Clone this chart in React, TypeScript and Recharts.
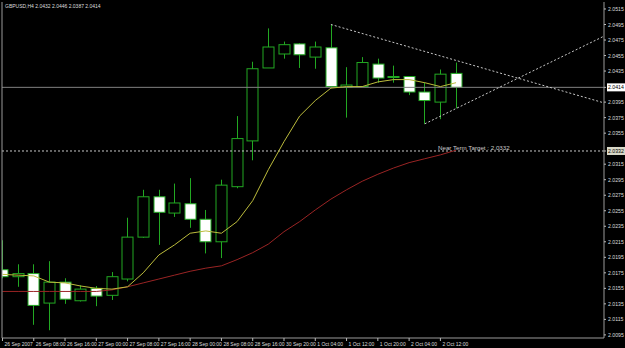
import { ComposedChart, Bar, Line, XAxis, YAxis, ReferenceLine } from 'recharts';

// GBPUSD H4 candles, 26 Sep - 2 Oct 2007
const symbol = 'GBPUSD,H4';
const opens = [2.0179, 2.017, 2.0174, 2.0136, 2.0163, 2.0139, 2.0155, 2.0146, 2.0167, 2.0221, 2.0273, 2.0252, 2.0264, 2.0244, 2.0215, 2.0286, 2.0345, 2.0439, 2.0457, 2.047, 2.0453, 2.0465, 2.0414, 2.0415, 2.0444, 2.0428, 2.0428, 2.0408, 2.0395, 2.0432];
const highs = [2.0217, 2.0186, 2.0186, 2.019, 2.0168, 2.0159, 2.0158, 2.0176, 2.0246, 2.0282, 2.0282, 2.029, 2.0297, 2.0256, 2.0295, 2.0377, 2.0447, 2.049, 2.0473, 2.0471, 2.0473, 2.0495, 2.044, 2.0453, 2.0451, 2.0442, 2.0428, 2.042, 2.0437, 2.0446];
const lows = [2.0168, 2.0157, 2.0108, 2.0101, 2.0135, 2.0138, 2.0132, 2.014, 2.0164, 2.022, 2.0211, 2.0247, 2.0233, 2.02, 2.0194, 2.0284, 2.032, 2.0439, 2.0451, 2.0439, 2.0438, 2.0413, 2.0375, 2.0415, 2.042, 2.042, 2.0404, 2.0367, 2.0373, 2.0387];
const closes = [2.017, 2.0174, 2.0133, 2.0163, 2.0141, 2.0154, 2.0145, 2.017, 2.0221, 2.0273, 2.0253, 2.0265, 2.0244, 2.0215, 2.0288, 2.0348, 2.0438, 2.0466, 2.0469, 2.0456, 2.0466, 2.0415, 2.0417, 2.0446, 2.0426, 2.0427, 2.0408, 2.0397, 2.0431, 2.0414];

// moving averages
const maFast = [2.0173, 2.0172, 2.0171, 2.0163, 2.0162, 2.0158, 2.0155, 2.0154, 2.0157, 2.0175, 2.0198, 2.0211, 2.0226, 2.0229, 2.0226, 2.0241, 2.0268, 2.0308, 2.0344, 2.0377, 2.0397, 2.0413, 2.0415, 2.0415, 2.0421, 2.0424, 2.0424, 2.042, 2.0415, 2.042];
const maSlow = [2.0151, 2.0151, 2.0151, 2.0151, 2.0151, 2.0151, 2.0151, 2.0153, 2.0157, 2.0162, 2.0167, 2.0172, 2.0177, 2.0181, 2.0184, 2.0192, 2.0201, 2.0212, 2.0228, 2.0241, 2.0256, 2.027, 2.0282, 2.0293, 2.0302, 2.031, 2.0317, 2.0322, 2.0327, 2.0333];

const timeTicks = [0, 2, 4, 6, 8, 10, 12, 14, 16, 18, 20, 22, 24, 26, 28];
const timeLabels = ['26 Sep 2007', '26 Sep 08:00', '26 Sep 16:00', '27 Sep 00:00', '27 Sep 08:00', '27 Sep 16:00', '28 Sep 00:00', '28 Sep 08:00', '28 Sep 16:00', '30 Sep 20:00', '1 Oct 04:00', '1 Oct 12:00', '1 Oct 20:00', '2 Oct 04:00', '2 Oct 12:00'];

const priceTicks = [2.0515, 2.0495, 2.0475, 2.0455, 2.0435, 2.0395, 2.0375, 2.0355, 2.0315, 2.0295, 2.0275, 2.0255, 2.0235, 2.0215, 2.0195, 2.0175, 2.0155, 2.0135, 2.0115, 2.0095];
const bidPrice = 2.0414;
const targetPrice = 2.0332;
const targetText = 'Near Term Target : 2.0332';

// triangle trend lines (bar index, price)
const upperTrend = [{ x: 21, y: 2.0495 }, { x: 38.46, y: 2.0394 }];
const lowerTrend = [{ x: 27, y: 2.0367 }, { x: 38.46, y: 2.048 }];

const data = opens.map((open, i) => ({
  i,
  open,
  high: highs[i],
  low: lows[i],
  close: closes[i],
  maFast: maFast[i],
  maSlow: maSlow[i],
}));

const GREEN = '#22a822';
const FONT = 'Liberation Sans, Arial, sans-serif';

const Candle = (props: any) => {
  const { x, y, width, height, payload } = props;
  const top = Math.min(y, y + height);
  const h = Math.abs(height);
  const { open, close, high, low } = payload;
  const k = h / (high - low);
  const yO = top + (high - open) * k;
  const yC = top + (high - close) * k;
  const cx = Math.round(x + width / 2) + 0.5;
  const bodyTop = Math.min(yO, yC);
  const bodyH = Math.max(Math.abs(yO - yC), 1);
  return (
    <g>
      <line x1={cx} x2={cx} y1={top} y2={top + h} stroke={GREEN} />
      <rect
        x={cx - 5.5}
        y={bodyTop}
        width={11}
        height={bodyH}
        fill={close >= open ? '#000' : '#fff'}
        stroke={GREEN}
      />
    </g>
  );
};

const TimeTick = ({ x, y, payload }: any) => (
  <text x={x + 2} y={y + 3} fontSize={5} fill="#ddd" fontFamily={FONT}>
    {timeLabels[timeTicks.indexOf(payload.value)]}
  </text>
);

const PriceTick = ({ x, y, payload }: any) => {
  const v = payload.value;
  const boxed = v === bidPrice || v === targetPrice;
  if (boxed) {
    return (
      <g>
        <rect x={x - 1} y={y - 4} width={19} height={8} fill={v === bidPrice ? '#fff' : '#d8d8c8'} />
        <text x={x} y={y + 2} fontSize={5.2} fill="#000" fontFamily={FONT}>
          {v.toFixed(4)}
        </text>
      </g>
    );
  }
  return (
    <text x={x} y={y + 2} fontSize={5.2} fill="#ddd" fontFamily={FONT}>
      {v.toFixed(4)}
    </text>
  );
};

const TargetLabel = ({ viewBox }: any) => (
  <text x={viewBox.x + 436} y={viewBox.y - 1} fontSize={6.2} fill="#ccc" fontFamily={FONT}>
    {targetText}
  </text>
);

export default function App() {
  const last = data.length - 1;
  const title = `${symbol}  ${opens[last].toFixed(4)} ${highs[last].toFixed(4)} ${lows[last].toFixed(4)} ${closes[last].toFixed(4)}`;
  return (
    <div style={{ position: 'fixed', left: 0, top: 0, width: 625, height: 348, background: '#000' }}>
      <ComposedChart
        width={625}
        height={348}
        data={data}
        margin={{ top: 2, right: 0, bottom: 0, left: 1 }}
        style={{ background: '#000' }}
      >
        <XAxis
          dataKey="i"
          type="number"
          domain={[-0.03, 38.46]}
          allowDataOverflow
          ticks={timeTicks}
          interval={0}
          tick={<TimeTick />}
          tickSize={3}
          height={10}
          axisLine={{ stroke: '#9a9a9a' }}
          tickLine={{ stroke: '#bbb' }}
        />
        <YAxis
          yAxisId="p"
          orientation="right"
          domain={[2.0091, 2.0524]}
          allowDataOverflow
          ticks={[...priceTicks, bidPrice, targetPrice]}
          interval={0}
          tick={<PriceTick />}
          tickSize={2}
          width={21}
          axisLine={{ stroke: '#9a9a9a' }}
          tickLine={{ stroke: '#bbb' }}
        />
        <YAxis yAxisId="l" orientation="left" width={1} tick={false} tickLine={false} axisLine={{ stroke: '#9a9a9a' }} />
        <ReferenceLine yAxisId="p" y={bidPrice} stroke="#808080" />
        <ReferenceLine
          yAxisId="p"
          y={targetPrice}
          stroke="#c8c8c8"
          strokeDasharray="2 2"
          label={<TargetLabel />}
        />
        <Bar
          yAxisId="p"
          dataKey={(d: any) => [d.low, d.high]}
          barSize={11}
          shape={<Candle />}
          isAnimationActive={false}
        />
        <Line yAxisId="p" dataKey="maSlow" stroke="#9a2424" strokeWidth={1} dot={false} isAnimationActive={false} />
        <Line yAxisId="p" dataKey="maFast" stroke="#bcbc3c" strokeWidth={1} dot={false} isAnimationActive={false} />
        <ReferenceLine yAxisId="p" segment={upperTrend} stroke="#c8c8c8" strokeDasharray="2 2" />
        <ReferenceLine yAxisId="p" segment={lowerTrend} stroke="#c8c8c8" strokeDasharray="2 2" />
      </ComposedChart>
      <svg width={625} height={12} style={{ position: 'absolute', left: 0, top: 0 }}>
        <text x={5} y={8} fontSize={5} fill="#ddd" fontFamily={FONT}>
          {title}
        </text>
      </svg>
    </div>
  );
}
